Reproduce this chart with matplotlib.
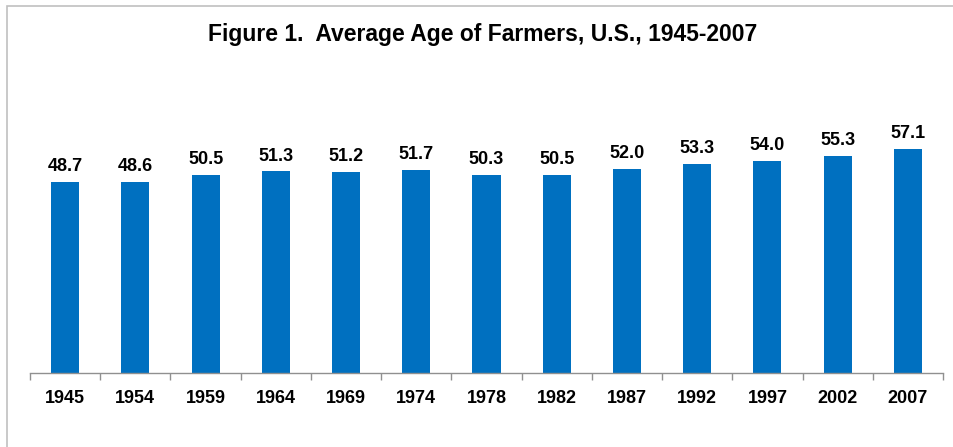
import numpy as np
import matplotlib.pyplot as plt
from matplotlib.patches import Rectangle

years = ['1945', '1954', '1959', '1964', '1969', '1974', '1978',
         '1982', '1987', '1992', '1997', '2002', '2007']
ages = [48.7, 48.6, 50.5, 51.3, 51.2, 51.7, 50.3,
        50.5, 52.0, 53.3, 54.0, 55.3, 57.1]

plt.rcParams['font.family'] = ['Liberation Sans', 'DejaVu Sans']

fig = plt.figure(figsize=(9.54, 4.47), dpi=100)
ax = fig.add_axes([30/954, (447-373)/447, (943-30)/954, (373-98)/447])

x = np.arange(len(years))
bars = ax.bar(x, ages, width=0.4, color='#0070C0', zorder=2)

for xi, v in zip(x, ages):
    ax.annotate('%.1f' % v, (xi, v), xytext=(0, 5), textcoords='offset points',
                ha='center', va='bottom', fontsize=13, fontweight='bold')

ax.set_xlim(-0.5, len(years) - 0.5)
ax.set_ylim(0, 70)
ax.set_yticks([])
ax.set_xticks(x)
ax.set_xticklabels(years, fontsize=13, fontweight='bold')
ax.tick_params(axis='x', length=0, pad=12)
ax.set_xticks(np.arange(-0.5, len(years)), minor=True)
ax.tick_params(axis='x', which='minor', length=5, color='#909090', width=1)
for s in ['top', 'left', 'right']:
    ax.spines[s].set_visible(False)
ax.spines['bottom'].set_color('#909090')
ax.spines['bottom'].set_linewidth(1)

fig.text(483/954, 1 - 35/447, 'Figure 1.  Average Age of Farmers, U.S., 1945-2007',
         ha='center', va='center', fontsize=16.5, fontweight='bold')

# outer chart border
fig.patches.append(Rectangle((7/954, -0.1), 1.1, 1 - 6/447 + 0.1,
                             transform=fig.transFigure, fill=False,
                             edgecolor='#C0C0C0', linewidth=1.2))

fig.savefig('out.png', dpi=100)
